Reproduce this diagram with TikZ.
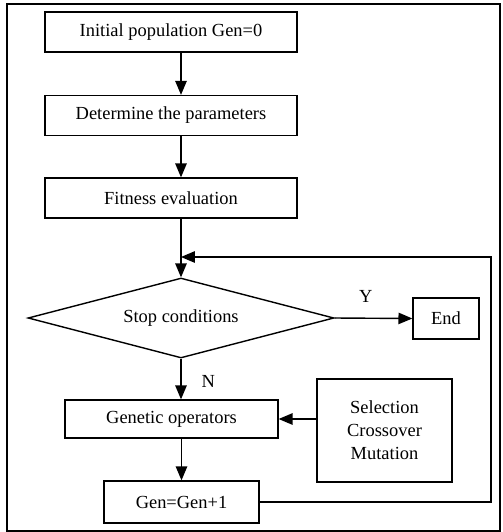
\documentclass[tikz,border=0pt]{standalone}
\usepackage{fontspec}
\setmainfont{Liberation Serif}
\usepackage{tikz}
\usetikzlibrary{arrows, shapes}

\begin{document}
\begin{tikzpicture}[
    x=0.02cm, y=-0.02cm,
    font=\fontsize{10.5}{13}\selectfont,
    >=triangle 45,
    gabox/.style={shape=rectangle, draw=black, line width=0.8pt, inner sep=0pt},
    gatest/.style={shape=diamond, draw=black, line width=0.8pt, inner sep=0pt, aspect=3.8, minimum width=6.12cm, minimum height=1.6cm},
    galine/.style={line width=0.8pt},
]
\useasboundingbox (0,0) rectangle (503,532);
\draw[line width=1pt] (7,4) rectangle (500,531);

\node[gabox, minimum width=5.04cm, minimum height=0.8cm] (init) at (171,32) {Initial population Gen=0};
\node[gabox, minimum width=5.04cm, minimum height=0.8cm] (param) at (171,115.5) {Determine the parameters};
\node[gabox, minimum width=5.04cm, minimum height=0.8cm] (fit) at (171,198) {Fitness evaluation};
\node[gatest] (stop) at (181,318) {Stop conditions};
\node[gabox, minimum width=1.32cm, minimum height=0.82cm] (end) at (446,318.5) {End};
\node[gabox, minimum width=4.26cm, minimum height=0.76cm] (genop) at (171.5,419) {Genetic operators};
\node[gabox, minimum width=2.7cm, minimum height=2.06cm, align=center] (ops) at (384.5,430.5) {Selection\\Crossover\\Mutation};
\node[gabox, minimum width=3.1cm, minimum height=0.84cm] (gen) at (181.5,502) {Gen=Gen+1};
\coordinate (loop) at (491,257);

\draw[galine, ->] (init.south -| stop.north) -- (param.north -| stop.north);
\draw[galine, ->] (param.south -| stop.north) -- (fit.north -| stop.north);
\draw[galine, ->] (fit.south -| stop.north) -- (stop.north);
\draw[galine, ->] (stop.east) -- node[pos=0.4, above=5pt] {Y} (end.west);
\draw[galine, ->] (stop.south) -- node[right=8pt, pos=0.55] {N} (stop.south |- genop.north);
\draw[galine, ->] (ops.west |- genop.east) -- (genop.east);
\draw[galine, ->] (genop.south -| gen.north) -- (gen.north);
\draw[galine, ->] (gen.east) -| (loop) -- (loop -| stop.north);
\end{tikzpicture}
\end{document}
